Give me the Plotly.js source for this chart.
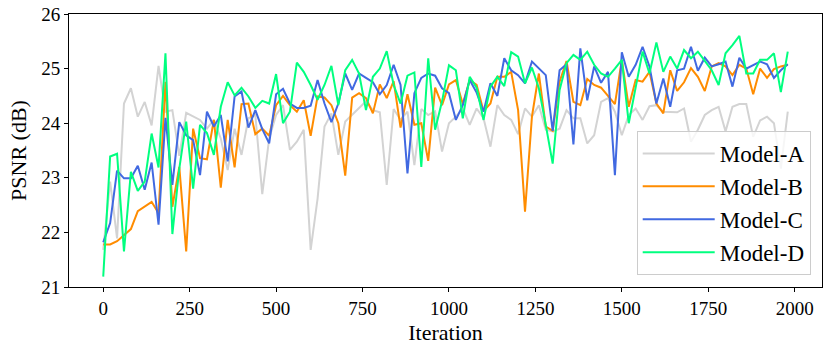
<!DOCTYPE html>
<html>
<head>
<meta charset="utf-8">
<script src="https://cdn.plot.ly/plotly-3.0.1.min.js"></script>
<style>html,body{margin:0;padding:0;background:#fff;}#chart{width:830px;height:348px;}</style>
</head>
<body>
<div id="chart"></div>
<script>
const iterations = Array.from({length: 100}, (_, i) => i * 20);

const modelA = [21.68,22.93,21.89,24.36,24.64,24.12,24.39,23.96,25.05,24.21,
24.24,23.40,24.19,24.12,24.06,23.90,24.06,23.72,23.14,23.90,
23.42,24.09,24.15,22.70,23.72,24.15,24.33,23.51,23.66,23.88,
21.68,22.62,23.94,24.18,23.42,24.03,24.15,24.27,24.40,24.24,
24.20,22.87,24.26,24.06,24.21,23.23,24.26,24.15,24.22,23.48,
24.00,24.12,24.27,23.97,24.27,24.09,23.57,24.33,24.15,24.06,
23.80,24.27,24.12,24.33,23.88,23.85,23.90,24.24,24.09,24.09,
23.63,23.78,24.39,24.46,24.21,23.78,24.15,24.27,24.06,24.31,
24.33,24.21,24.20,24.20,24.27,23.66,23.88,24.15,24.24,24.30,
23.85,24.30,24.35,24.35,23.75,24.05,24.12,24.00,23.17,24.21];

const modelB = [21.78,21.78,21.84,21.95,22.06,22.39,22.47,22.56,22.35,24.76,
22.47,23.20,21.65,23.90,23.36,23.34,24.06,22.82,24.06,23.19,
24.35,24.36,23.80,23.90,23.77,24.33,24.50,24.33,24.21,24.42,
23.77,24.49,24.47,24.33,24.00,23.04,24.47,24.55,24.46,24.18,
24.71,24.46,24.77,23.92,24.53,23.97,24.00,23.31,24.65,24.33,
24.71,24.79,24.35,24.79,24.70,24.22,24.36,24.85,24.85,24.94,
24.24,22.38,24.12,24.91,23.94,23.86,24.76,25.14,24.39,24.33,
24.81,24.70,24.65,24.49,24.35,25.16,24.30,24.79,24.76,24.94,
24.36,24.18,24.97,24.59,24.75,25.01,24.85,24.59,25.04,25.10,
25.04,24.88,25.07,25.00,24.53,25.00,24.83,24.99,25.04,25.07];

const modelC = [21.82,22.17,23.13,22.99,22.99,23.22,22.78,23.28,22.14,24.10,
22.87,24.02,23.78,23.69,23.05,24.21,23.94,24.15,23.30,24.49,
24.58,23.92,24.24,23.89,23.63,24.53,24.63,24.36,24.28,24.28,
24.32,24.79,24.36,24.02,24.36,24.91,24.61,24.91,24.83,24.75,
24.53,24.70,25.07,24.70,23.08,24.55,24.83,24.91,24.87,24.64,
24.55,24.06,24.33,24.79,24.56,24.21,24.73,24.50,25.19,24.97,
24.88,24.73,25.13,25.00,24.88,23.86,24.97,25.08,23.61,25.37,
24.42,25.04,24.74,24.94,23.05,25.30,24.85,25.07,25.40,25.04,
24.36,24.82,24.30,24.97,25.00,25.40,24.96,25.20,25.04,25.08,
25.13,24.67,25.20,25.00,25.07,25.13,25.08,24.83,24.97,25.08];

const modelD = [21.19,23.39,23.44,21.65,23.11,22.76,22.93,23.81,23.19,25.28,
21.97,23.17,24.03,22.80,23.97,23.82,23.42,24.30,24.75,24.51,
24.65,24.49,24.28,24.41,24.36,24.90,24.00,24.21,25.11,24.94,
24.70,24.43,24.70,25.05,24.33,24.97,25.16,24.91,24.24,24.85,
25.00,25.32,24.70,24.36,24.87,24.93,23.20,25.19,23.88,24.40,
25.06,24.97,24.09,24.85,24.65,24.06,24.67,24.85,24.68,25.30,
25.22,24.73,25.02,24.64,23.97,23.26,24.61,25.10,25.25,25.16,
25.31,25.07,24.91,24.85,25.00,25.16,24.00,24.64,25.31,24.91,
25.48,24.94,25.22,25.00,25.34,25.19,25.31,25.14,24.97,24.70,
25.28,25.43,25.60,24.91,24.91,25.16,25.16,25.28,24.57,25.31];

const seriesNames = ['Model-A', 'Model-B', 'Model-C', 'Model-D'];
const seriesColors = ['#d3d3d3', '#ff8c00', '#4169e1', '#00ff7f'];
const seriesData = [modelA, modelB, modelC, modelD];

const xTicks = [0, 250, 500, 750, 1000, 1250, 1500, 1750, 2000];
const yTicks = [21, 22, 23, 24, 25, 26];

const FONT = 'Times New Roman, Times, Liberation Serif, Nimbus Roman, serif';

const traces = seriesData.map((ys, k) => ({
  x: iterations,
  y: ys,
  type: 'scatter',
  mode: 'lines',
  name: seriesNames[k],
  line: {color: seriesColors[k], width: 2}
}));

const layout = {
  width: 830,
  height: 348,
  margin: {l: 69, r: 8, t: 14, b: 61},
  paper_bgcolor: '#fff',
  plot_bgcolor: '#fff',
  font: {family: FONT, color: '#000', size: 19},
  showlegend: true,
  legend: {
    x: 0.985, y: 0.044, xanchor: 'right', yanchor: 'bottom',
    bgcolor: 'rgba(255,255,255,0.8)',
    bordercolor: '#cccccc', borderwidth: 1,
    font: {family: FONT, size: 23, color: '#000'},
    itemwidth: 72
  },
  xaxis: {
    range: [-99, 2079],
    tickmode: 'array', tickvals: xTicks, ticktext: xTicks.map(String),
    ticks: 'outside', ticklen: 4, tickwidth: 1, tickcolor: '#000',
    showline: true, linecolor: '#000', linewidth: 1, mirror: true,
    showgrid: false, zeroline: false,
    tickfont: {family: FONT, size: 19, color: '#000'},
    title: {text: 'Iteration', font: {family: FONT, size: 22, color: '#000'}, standoff: 6}
  },
  yaxis: {
    range: [21, 26],
    tickmode: 'array', tickvals: yTicks, ticktext: yTicks.map(String),
    ticks: 'outside', ticklen: 4, tickwidth: 1, tickcolor: '#000',
    showline: true, linecolor: '#000', linewidth: 1, mirror: true,
    showgrid: false, zeroline: false,
    tickfont: {family: FONT, size: 19, color: '#000'},
    title: {text: 'PSNR (dB)', font: {family: FONT, size: 22, color: '#000'}, standoff: 8}
  }
};

Plotly.newPlot('chart', traces, layout, {displayModeBar: false, staticPlot: true});
</script>
</body>
</html>
